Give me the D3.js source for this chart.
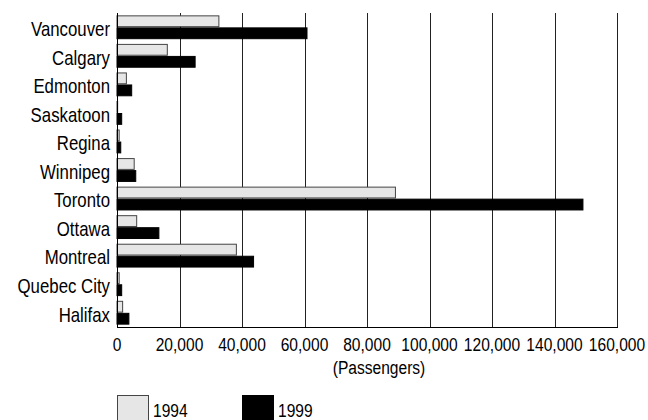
<!DOCTYPE html>
<html>
<head>
<meta charset="utf-8">
<script src="https://cdn.jsdelivr.net/npm/d3@7"></script>
<style>
  html, body { margin: 0; padding: 0; background: #fff; }
  svg text { font-family: "Liberation Sans Narrow", "Arial Narrow", "Liberation Sans", Arial, sans-serif; fill: #000; }
</style>
</head>
<body>
<svg id="chart" width="648" height="420"></svg>
<script>
const cities = ["Vancouver", "Calgary", "Edmonton", "Saskatoon", "Regina", "Winnipeg", "Toronto", "Ottawa", "Montreal", "Quebec City", "Halifax"];
const values1994 = [32600, 16100, 3000, 200, 700, 5500, 89100, 6300, 38200, 700, 1800];
const values1999 = [60800, 25000, 4700, 1500, 1200, 6000, 149100, 13400, 43700, 1500, 3800];
const seriesNames = ["1994", "1999"];
const xTicks = [0, 20000, 40000, 60000, 80000, 100000, 120000, 140000, 160000];
const axisTitle = "(Passengers)";

const colors = { "1994": "#e6e6e6", "1999": "#000000" };
const strokes = { "1994": "#444444", "1999": "#000000" };

const svg = d3.select("#chart");
const pLeft = 117, pRight = 617, pTop = 13, pBottom = 327;
const NARROW = 0.82;

const x = d3.scaleLinear().domain([0, 160000]).range([pLeft, pRight]);
const y = d3.scaleBand().domain(cities).range([pTop, pBottom]).paddingInner(0.2).paddingOuter(0.1);
const ySub = d3.scaleBand().domain(seriesNames).range([0, y.bandwidth()]).paddingInner(0.1);

// gridlines
svg.append("g").selectAll("line").data(xTicks.slice(1)).join("line")
  .attr("x1", d => Math.round(x(d)) + 0.5).attr("x2", d => Math.round(x(d)) + 0.5)
  .attr("y1", pTop).attr("y2", pBottom)
  .attr("stroke", "#222").attr("stroke-width", 1);

const rows = cities.map((c, i) => ({ city: c, vals: [
  { s: "1994", v: values1994[i] }, { s: "1999", v: values1999[i] } ] }));

const g = svg.append("g").selectAll("g").data(rows).join("g")
  .attr("transform", d => `translate(0,${y(d.city)})`);
g.selectAll("rect").data(d => d.vals).join("rect")
  .attr("x", x(0))
  .attr("y", d => ySub(d.s))
  .attr("width", d => Math.max(0, x(d.v) - x(0)))
  .attr("height", ySub.bandwidth())
  .attr("fill", d => colors[d.s])
  .attr("stroke", d => strokes[d.s])
  .attr("stroke-width", 1);

// axis lines
svg.append("line").attr("x1", pLeft + 0.5).attr("x2", pLeft + 0.5).attr("y1", pTop).attr("y2", pBottom)
  .attr("stroke", "#000");
svg.append("line").attr("x1", pLeft).attr("x2", pRight + 1).attr("y1", pBottom + 0.5).attr("y2", pBottom + 0.5)
  .attr("stroke", "#000");

function narrowText(sel, tx, ty, size, anchor) {
  return sel.attr("transform", (d, i) => `translate(${tx(d, i)},${ty(d, i)}) scale(${NARROW},1)`)
    .attr("x", 0).attr("y", 0)
    .attr("font-size", size)
    .attr("text-anchor", anchor);
}

// category labels
narrowText(svg.append("g").selectAll("text").data(cities).join("text"),
  () => 110, d => y(d) + y.bandwidth() / 2 + 8.8, 20.5, "end")
  .text(d => d);

// tick labels
const fmt = d3.format(",");
narrowText(svg.append("g").selectAll("text").data(xTicks).join("text"),
  d => x(d), () => 350.5, 19, "middle")
  .text(d => fmt(d));

narrowText(svg.append("g").selectAll("text").data([axisTitle]).join("text"),
  () => (pLeft + pRight) / 2 + 12, () => 373.5, 19, "middle")
  .text(d => d);

// legend
const legendX = [117, 242];
const lg = svg.append("g").selectAll("g").data(seriesNames).join("g")
  .attr("transform", (d, i) => `translate(${legendX[i]},395)`);
lg.append("rect").attr("x", 0.5).attr("y", 0.5).attr("width", 31).attr("height", 30)
  .attr("fill", d => colors[d]).attr("stroke", d => strokes[d]);
narrowText(lg.append("text"), () => 36, () => 22, 19, "start").text(d => d);
</script>
</body>
</html>
